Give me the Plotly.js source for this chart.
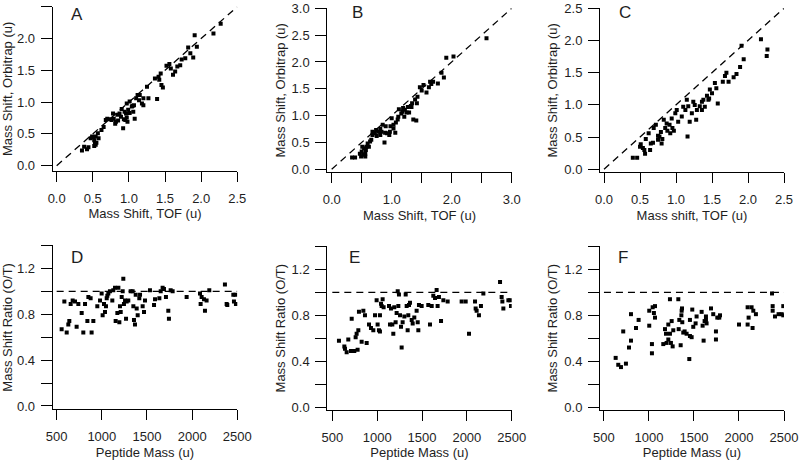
<!DOCTYPE html>
<html>
<head>
<meta charset="utf-8">
<script src="https://cdn.plot.ly/plotly-3.0.1.min.js"></script>
<style>html,body{margin:0;padding:0;background:#fff;}#chart{width:800px;height:462px;}</style>
</head>
<body>
<div id="chart"></div>
<script>
// ---- Panel A: Mass shift TOF vs Orbitrap ----
const aTof   = [0.35,0.38,0.42,0.47,0.49,0.52,0.53,0.55,0.54,0.57,0.51,0.52,0.58,0.62,0.65,0.70,0.73,0.76,0.79,0.82,0.84,0.87,0.89,0.90,0.92,0.95,0.96,0.97,0.98,0.99,1.01,1.04,1.06,1.07,1.10,1.12,1.14,1.18,1.20,1.27,1.25,1.39,1.36,1.41,1.44,1.45,1.47,1.42,1.52,1.56,1.58,1.61,1.64,1.67,1.71,1.73,1.78,1.82,1.85,1.89,1.91,1.94,2.17,2.27,0.68,0.78,0.81,0.85,0.93,0.94,0.97,1.01,1.08,1.05,1.15,1.20,0.44,0.54];
const aOrbi  = [0.24,0.30,0.26,0.43,0.46,0.40,0.34,0.36,0.46,0.51,0.45,0.31,0.43,0.56,0.61,0.74,0.73,0.72,0.74,0.69,0.80,0.82,0.77,0.89,0.59,0.72,0.82,0.98,0.69,0.88,1.01,0.93,0.85,0.95,1.06,1.11,1.03,0.98,1.06,1.06,1.24,1.05,1.37,1.40,1.45,1.27,1.23,1.35,1.57,1.60,1.53,1.43,1.48,1.56,1.58,1.67,1.69,1.86,1.77,1.70,2.05,1.87,2.08,2.23,0.72,0.82,0.66,0.71,0.73,0.85,0.76,0.83,0.74,0.94,1.11,0.95,0.29,0.33];
// ---- Panel B ----
const bTof   = [0.34,0.39,0.47,0.50,0.51,0.54,0.56,0.57,0.53,0.60,0.62,0.66,0.68,0.70,0.72,0.75,0.78,0.81,0.83,0.85,0.88,0.90,0.92,0.96,0.98,1.00,1.03,1.06,1.07,1.10,1.12,1.16,1.18,1.21,1.22,1.27,1.29,1.33,1.34,1.36,1.39,1.42,1.41,1.43,1.47,1.50,1.53,1.58,1.62,1.66,1.69,1.77,1.83,1.87,1.91,2.03,2.58,0.58,0.64,0.81,0.89,0.97,1.03,1.11,1.19,1.25,1.32,0.68,0.74,0.49,0.56,1.64];
const bOrbi  = [0.22,0.22,0.29,0.33,0.42,0.39,0.29,0.36,0.27,0.48,0.42,0.55,0.64,0.68,0.67,0.62,0.70,0.64,0.70,0.83,0.50,0.80,0.67,0.64,0.80,0.95,0.83,0.68,0.87,0.93,1.12,1.04,1.07,0.98,1.11,1.16,1.06,1.16,1.23,0.93,1.30,1.23,0.91,1.35,1.53,1.47,1.57,1.43,1.53,1.59,1.63,1.60,1.80,1.71,2.08,2.10,2.44,0.42,0.52,0.75,0.68,0.70,0.76,0.98,1.14,1.06,1.18,0.70,0.73,0.24,0.24,1.63];
// ---- Panel C ----
const cTof   = [0.40,0.46,0.50,0.51,0.54,0.56,0.57,0.58,0.62,0.65,0.68,0.69,0.72,0.75,0.77,0.79,0.80,0.81,0.83,0.85,0.87,0.88,0.91,0.94,0.95,0.97,0.99,1.03,1.08,1.10,1.13,1.16,1.15,1.17,1.19,1.22,1.24,1.26,1.28,1.33,1.36,1.38,1.40,1.43,1.45,1.47,1.50,1.54,1.56,1.58,1.65,1.68,1.70,1.73,1.80,1.84,1.89,1.94,1.91,2.18,2.27,2.26,1.01,1.29,1.36,1.46,0.92,0.75,0.64];
const cOrbi  = [0.18,0.18,0.35,0.39,0.33,0.30,0.24,0.47,0.56,0.40,0.41,0.64,0.69,0.52,0.51,0.58,0.40,0.47,0.77,0.64,0.71,0.60,0.69,0.79,0.64,0.60,0.87,0.74,0.82,0.97,0.92,0.51,1.08,0.98,0.74,0.87,1.05,1.00,0.77,0.98,0.92,1.08,0.97,1.14,1.08,1.24,1.18,1.34,1.26,1.02,1.36,1.45,1.50,1.36,1.43,1.48,1.59,1.71,1.92,2.02,1.86,1.76,0.92,0.92,1.05,1.10,0.56,0.46,0.30];
// ---- Panel D: ratio vs peptide mass ----
const dMass  = [555,585,611,629,640,655,677,703,721,740,777,795,814,840,851,876,887,906,950,980,998,1009,1024,1035,1046,1054,1072,1090,1127,1146,1153,1172,1183,1194,1201,1209,1220,1231,1238,1245,1257,1268,1275,1293,1319,1341,1349,1356,1367,1375,1386,1397,1415,1423,1452,1467,1478,1533,1578,1589,1637,1652,1673,1688,1710,1736,1743,1762,1784,1939,2087,2094,2105,2131,2142,2160,2190,2363,2382,2389,2456,2463,2485,2478,1061,1116];
const dRatio = [0.67,0.91,0.64,0.71,0.74,0.89,0.92,0.91,0.69,0.89,0.81,0.64,0.89,0.74,0.95,0.94,0.64,0.74,0.87,0.92,0.98,0.79,0.89,0.82,0.87,0.94,0.98,1.00,1.01,1.03,0.74,0.81,1.03,0.73,0.87,0.82,0.95,1.00,1.11,0.89,0.92,0.76,0.91,0.92,1.00,1.00,0.87,0.75,0.71,0.97,0.85,0.79,0.94,0.97,0.87,0.82,0.92,1.01,0.88,0.93,0.94,1.00,1.03,1.02,0.95,0.83,0.76,1.01,1.00,0.95,0.98,0.89,0.95,0.93,0.83,0.92,1.01,1.06,0.89,0.88,0.97,0.91,0.89,0.97,0.96,0.92];
// ---- Panel E ----
const eMass  = [574,634,641,660,678,708,716,745,760,771,782,797,790,827,846,864,883,909,931,957,976,994,1005,1020,1031,1031,1043,1050,1061,1072,1132,1143,1154,1169,1180,1191,1206,1217,1229,1236,1243,1255,1266,1273,1284,1303,1318,1329,1340,1347,1355,1366,1385,1396,1414,1440,1452,1459,1466,1496,1570,1589,1608,1626,1645,1663,1674,1689,1712,1738,1786,1942,1987,2024,2091,2098,2109,2135,2157,2184,2370,2388,2396,2407,2463,2481,2492];
const eRatio = [0.58,0.53,0.51,0.48,0.59,0.49,0.77,0.49,0.61,0.64,0.50,0.83,0.67,0.57,0.84,0.80,0.56,0.72,0.69,0.67,0.80,0.93,0.72,0.67,0.80,0.66,0.90,0.88,0.94,0.87,0.88,0.72,0.86,0.72,0.64,0.87,0.74,0.82,1.01,0.88,0.98,0.80,0.70,0.52,0.74,0.79,0.98,0.88,0.67,0.80,0.89,0.91,0.76,0.73,0.78,0.84,0.74,0.67,0.89,0.88,0.89,0.72,0.88,0.97,0.95,1.02,0.88,0.96,0.75,0.93,0.92,0.92,0.92,0.64,0.92,0.86,0.84,0.80,0.88,0.99,1.09,0.96,0.92,0.86,0.93,0.93,0.88];
// ---- Panel F ----
const fMass  = [630,659,689,744,714,778,800,800,856,885,1003,1003,1033,1033,1041,1067,1055,1067,1178,1159,1189,1215,1196,1233,1215,1252,1244,1263,1270,1233,1326,1330,1337,1352,1363,1367,1360,1370,1381,1396,1418,1448,1455,1455,1474,1481,1492,1518,1529,1585,1596,1607,1618,1633,1633,1640,1689,1714,1744,1744,1759,1789,1781,2000,2096,2107,2096,2140,2159,2188,2151,2367,2374,2374,2400,2440,2474,2492,2492];
const fRatio = [0.43,0.37,0.35,0.38,0.66,0.52,0.58,0.81,0.69,0.76,0.84,0.71,0.55,0.47,0.87,0.88,0.82,0.78,0.68,0.55,0.64,0.59,0.56,0.64,0.72,0.75,0.56,0.53,0.67,0.94,0.94,0.68,0.76,0.54,0.84,0.86,0.80,0.74,0.65,0.66,0.64,0.42,0.62,0.76,0.61,0.85,0.70,0.73,0.79,0.83,0.71,0.58,0.75,0.79,0.76,0.73,0.86,0.81,0.66,0.59,0.78,0.80,0.78,0.72,0.87,0.78,0.72,0.87,0.84,0.81,0.69,0.99,0.88,0.84,0.79,0.81,0.81,0.88,0.80];

// reference lines (identity / ratio = 1)
const idLineA = [0, 2.5];
const idLineB = [0, 3.0];
const idLineC = [0, 2.5];
const ratioLineX = [500, 2500];
const ratioLineY = [1, 1];

// tick labels
const shiftTicks25 = [0, 0.5, 1.0, 1.5, 2.0, 2.5];
const shiftText25  = ['0.0','0.5','1.0','1.5','2.0','2.5'];
const shiftTicks30 = [0, 0.5, 1.0, 1.5, 2.0, 2.5, 3.0];
const shiftText30x = ['0.0','','1.0','','2.0','','3.0'];
const shiftText30y = ['0.0','0.5','1.0','1.5','2.0','2.5','3.0'];
const massTicks = [500, 1000, 1500, 2000, 2500];
const massText  = ['500','1000','1500','2000','2500'];
const ratioTicks = [0, 0.2, 0.4, 0.6, 0.8, 1.0, 1.2, 1.4];
const ratioText  = ['0.0','','0.4','','0.8','','1.2',''];

const panelLetters = ['A','B','C','D','E','F'];
const xTitles = ['Mass Shift, TOF (u)','Mass Shift, TOF (u)','Mass shift, TOF (u)','Peptide Mass (u)','Peptide Mass (u)','Peptide Mass (u)'];
const yTitles = ['Mass Shift, Orbitrap (u)','Mass Shift, Orbitrap (u)','Mass Shift, Orbitrap (u)','Mass Shift Ratio (O/T)','Mass Shift Ratio (O/T)','Mass Shift Ratio (O/T)'];

const W = 800, H = 462;
const FONT = 'Liberation Sans, Arial, Helvetica, sans-serif';
const TXT = '#1e1e1e';

const mk = {symbol: 'square', size: 4, color: '#000', line: {width: 0}};
const dl = {color: '#000', width: 1.3, dash: '7px,5px'};

function pts(x, y, n) {
  return {x: x, y: y, type: 'scatter', mode: 'markers', marker: mk,
          xaxis: 'x' + (n === 1 ? '' : n), yaxis: 'y' + (n === 1 ? '' : n),
          showlegend: false, hoverinfo: 'x+y'};
}
function ref(x, y, n) {
  return {x: x, y: y, type: 'scatter', mode: 'lines', line: dl,
          xaxis: 'x' + (n === 1 ? '' : n), yaxis: 'y' + (n === 1 ? '' : n),
          showlegend: false, hoverinfo: 'skip'};
}

const data = [
  ref(idLineA, idLineA, 1), pts(aTof, aOrbi, 1),
  ref(idLineB, idLineB, 2), pts(bTof, bOrbi, 2),
  ref(idLineC, idLineC, 3), pts(cTof, cOrbi, 3),
  ref(ratioLineX, ratioLineY, 4), pts(dMass, dRatio, 4),
  ref(ratioLineX, ratioLineY, 5), pts(eMass, eRatio, 5),
  ref(ratioLineX, ratioLineY, 6), pts(fMass, fRatio, 6)
];

// pixel geometry of each panel: [left, right, top, bottom]
const boxes = [
  [52.7, 237.3, 6.7, 171.0],
  [327.3, 511.7, 8.3, 172.3],
  [600.0, 784.0, 8.3, 172.3],
  [52.7, 237.3, 245.4, 409.3],
  [327.3, 511.7, 246.3, 410.0],
  [600.0, 784.0, 246.3, 410.0]
];
const xRanges = [[-0.055, 2.5], [-0.073, 3.0], [-0.056, 2.5], [456, 2500], [444, 2500], [456, 2500]];
const yRanges = [[-0.083, 2.5], [-0.056, 3.0], [-0.047, 2.5], [-0.029, 1.4], [-0.023, 1.4], [-0.023, 1.4]];
const xTickV = [shiftTicks25, shiftTicks30, shiftTicks25, massTicks, massTicks, massTicks];
const xTickT = [shiftText25, shiftText30x, shiftText25, massText, massText, massText];
const yTickV = [shiftTicks25, shiftTicks30, shiftTicks25, ratioTicks, ratioTicks, ratioTicks];
const yTickT = [shiftText25, shiftText30y, shiftText25, ratioText, ratioText, ratioText];
const letterPos = [[77, 15], [357, 13], [625, 13], [77, 257], [354, 257], [623, 257]];

const layout = {
  width: W, height: H,
  margin: {l: 0, r: 0, t: 0, b: 0},
  paper_bgcolor: '#fff', plot_bgcolor: '#fff',
  font: {family: FONT, size: 13, color: TXT},
  showlegend: false,
  annotations: []
};

for (let i = 0; i < 6; i++) {
  const b = boxes[i];
  const s = i === 0 ? '' : String(i + 1);
  layout['xaxis' + s] = {
    domain: [b[0] / W, b[1] / W],
    range: xRanges[i], anchor: 'y' + s,
    showgrid: false, zeroline: false,
    showline: true, linecolor: '#000', linewidth: 1,
    ticks: 'outside', ticklen: 10, tickwidth: 1, tickcolor: '#000',
    ticklabelstandoff: 5,
    tickmode: 'array', tickvals: xTickV[i], ticktext: xTickT[i],
    tickfont: {family: FONT, size: 13, color: TXT},
    title: {text: xTitles[i], font: {family: FONT, size: 13, color: TXT}, standoff: 4},
    fixedrange: true
  };
  layout['yaxis' + s] = {
    domain: [1 - b[3] / H, 1 - b[2] / H],
    range: yRanges[i], anchor: 'x' + s,
    showgrid: false, zeroline: false,
    showline: true, linecolor: '#000', linewidth: 1,
    ticks: 'outside', ticklen: 11, tickwidth: 1, tickcolor: '#000',
    ticklabelstandoff: 3,
    tickmode: 'array', tickvals: yTickV[i], ticktext: yTickT[i],
    tickfont: {family: FONT, size: 13, color: TXT},
    title: {text: yTitles[i], font: {family: FONT, size: 13, color: TXT}, standoff: 3},
    fixedrange: true
  };
  layout.annotations.push({
    text: panelLetters[i], xref: 'paper', yref: 'paper',
    x: letterPos[i][0] / W, y: 1 - letterPos[i][1] / H,
    xanchor: 'center', yanchor: 'middle', showarrow: false,
    font: {family: FONT, size: 17, color: TXT}
  });
}

Plotly.newPlot('chart', data, layout, {displayModeBar: false, staticPlot: true});
</script>
</body>
</html>
